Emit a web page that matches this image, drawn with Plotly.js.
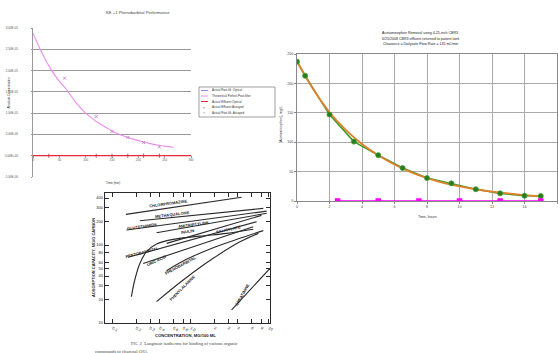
<!DOCTYPE html>
<html><head><meta charset="utf-8">
<script src="https://cdn.plot.ly/plotly-3.0.1.min.js"></script>
<style>html,body{margin:0;padding:0;background:#fff}</style>
</head><body><div id="chart" style="width:558px;height:353px"></div>
<script>
// ---------- Chart 1: KE +1 Phenobarbital Performance ----------
const c1FitTime = [0, 16, 32, 48, 64, 82, 100, 114, 127, 143, 159, 175, 190, 205, 221, 237, 253, 267];
const c1FitConc = [2.88e-5, 2.44e-5, 2.07e-5, 1.78e-5, 1.55e-5, 1.24e-5, 1.00e-5, 0.86e-5, 0.75e-5, 0.63e-5, 0.53e-5, 0.45e-5, 0.39e-5, 0.34e-5, 0.29e-5, 0.25e-5, 0.22e-5, 0.20e-5];
const c1PostTime = [60, 120, 150, 180, 210, 240];
const c1PostConc = [1.82e-5, 0.92e-5, 0.57e-5, 0.43e-5, 0.31e-5, 0.21e-5];
const c1EffTime = [30, 120, 150, 180, 210, 240];
const c1EffConc = [0, 0, 0, 0, 0, 0];
const c1EffLineTime = [0, 300];
const c1EffLineConc = [0, 0];
const c1YTicks = [-5e-6, 0, 5e-6, 1e-5, 1.5e-5, 2e-5, 2.5e-5, 3e-5];
const c1YLabels = ["-5.00E-06", "0.00E+00", "5.00E-06", "1.00E-05", "1.50E-05", "2.00E-05", "2.50E-05", "3.00E-05"];
const c1XTicks = [0, 50, 100, 150, 200, 250, 300];
const c1LegendNames = ["Actual Post-filt. Optical", "Theoretical Perfect Post-filter", "Actual Effluent Optical", "Actual Effluent Assayed", "Actual Post-filt. Assayed"];

// ---------- Chart 2: Acetaminophen removal ----------
const c2Time = [0, 0.5, 2, 3.5, 5, 6.5, 8, 9.5, 11, 12.5, 14, 15];
const c2Conc = [237, 213, 147, 101, 78, 56, 39, 30, 20, 13, 9, 8.5];
const c2FitTime = [0, 1, 2, 3, 4, 5, 6, 7, 8, 9, 10, 11, 12, 13, 14, 15];
const c2FitConc = [238, 190, 151, 121, 97, 78, 62, 49, 39, 31, 25, 20, 16, 13, 10, 8];
const c2TankTime = [2.5, 5, 7.5, 10, 12.5, 15];
const c2TankConc = [0, 0, 0, 0, 0, 0];
const c2Title = ["Acetaminophen Removal using 4.25-inch CBR3", "6/25/2008 CBR3 effluent returned to patient tank", "Clearance = Dialysate Flow Rate = 145 mL/min"];

// ---------- Chart 3: Langmuir isotherms (log-log) ----------
const chlorX = [0.147, 4.47], chlorY = [247, 409];
const methaX = [0.222, 8.45], methaY = [205, 295];
const gluteX = [0.150, 9.34], gluteY = [156, 272];
const amitrX = [0.363, 9.34], amitrY = [144, 255];
const inulinX = [0.173, 0.191, 0.222, 0.270, 0.363, 0.594, 1.30, 2.87, 6.29];
const inulinY = [21.8, 35.6, 58, 82, 103, 118, 130, 141, 159];
const pentoX = [0.157, 6.95], pentoY = [69.5, 199];
const salicX = [0.49, 8.0], salicY = [105, 240];
const uricX = [0.245, 6.29], uricY = [58, 172];
const phenoX = [0.488, 0.879, 1.93, 4.25, 8.45];
const phenoY = [46.9, 65.5, 92.4, 122, 153];
const phenylX = [0.363, 0.797, 1.93, 4.25, 7.30];
const phenylY = [18.8, 35.6, 67.5, 110, 141];
const creatX = [3.32, 10.3], creatY = [14.7, 50.2];
const c3XTicks = [0.1, 0.2, 0.3, 0.4, 0.6, 0.8, 1.0, 2, 3, 4, 6, 8, 10];
const c3XLabels = ["0.1", "0.2", "0.3", "0.4", "0.6", "0.8", "1.0", "2", "3", "4", "6", "8", "10"];
const c3YTicks = [10, 20, 30, 40, 50, 60, 80, 100, 200, 300, 400];
const c3YLabels = ["10", "20", "30", "40", "50", "60", "80", "100", "200", "300", "400"];

const W = 558, H = 353;
const fx = p => p / W, fy = p => 1 - p / H;

const blk = '#2a2a2a';
const iso = (x, y, shape) => ({x, y, xaxis: 'x3', yaxis: 'y3', mode: 'lines', type: 'scatter',
  line: {color: blk, width: 1.1, shape: shape || 'linear', smoothing: 1}, hoverinfo: 'skip', showlegend: false});

const traces = [
  // chart 1
  {x: c1EffLineTime, y: c1EffLineConc, xaxis: 'x', yaxis: 'y', mode: 'lines', line: {color: '#e8283c', width: 1.3}, showlegend: false},
  {x: c1FitTime, y: c1FitConc, xaxis: 'x', yaxis: 'y', mode: 'lines', line: {color: '#ec8cec', width: 1.1, shape: 'spline', smoothing: 0.8}, showlegend: false},
  {x: c1PostTime, y: c1PostConc, xaxis: 'x', yaxis: 'y', mode: 'markers', marker: {symbol: 'x-thin', size: 3, color: '#c070c0', line: {color: '#c070c0', width: 0.8}}, showlegend: false},
  {x: c1EffTime, y: c1EffConc, xaxis: 'x', yaxis: 'y', mode: 'markers', marker: {symbol: 'line-ns', size: 3, color: '#c03040', line: {color: '#c03040', width: 0.8}}, showlegend: false},
  // chart 2
  {x: c2Time, y: c2Conc, xaxis: 'x2', yaxis: 'y2', mode: 'lines', line: {color: '#3a9a2a', width: 1.6}, showlegend: false},
  {x: c2FitTime, y: c2FitConc, xaxis: 'x2', yaxis: 'y2', mode: 'lines', line: {color: '#e0802a', width: 1.8, shape: 'spline'}, showlegend: false},
  {x: c2Time, y: c2Conc, xaxis: 'x2', yaxis: 'y2', mode: 'markers', marker: {symbol: 'circle', size: 5, color: '#2c7a22', line: {color: '#3a9a2a', width: 0.8}}, showlegend: false},
  {x: c2TankTime, y: c2TankConc, xaxis: 'x2', yaxis: 'y2', mode: 'lines+markers', line: {color: '#ff00ff', width: 1.3}, marker: {symbol: 'square', size: 5.5, color: '#ff00ff'}, showlegend: false},
  // chart 3
  iso(chlorX, chlorY), iso(methaX, methaY), iso(gluteX, gluteY), iso(amitrX, amitrY),
  iso(inulinX, inulinY, 'spline'), iso(pentoX, pentoY), iso(salicX, salicY), iso(uricX, uricY),
  iso(phenoX, phenoY, 'spline'), iso(phenylX, phenylY, 'spline'), iso(creatX, creatY)
];

const ann = [];
const shapes = [];
const A = (text, px, py, size, opts) => ann.push(Object.assign({text, x: fx(px), y: fy(py), xref: 'paper', yref: 'paper',
  xanchor: 'center', yanchor: 'middle', showarrow: false,
  font: {size, color: '#333', family: 'Liberation Sans, Arial, sans-serif'}}, opts || {}));

// chart 1 texts
A('KE +1 Phenobarbital Performance', 138, 13, 4.2, {font: {size: 4.2, color: '#444', family: 'Liberation Sans'}});
A('Absolute Concentration', 8.5, 93, 3, {textangle: -90});
A('Time (min)', 113, 183, 3);
// legend chart 1
shapes.push({type: 'rect', xref: 'paper', yref: 'paper', x0: fx(199), x1: fx(275), y0: fy(117), y1: fy(87), line: {color: '#777', width: 0.7}});
const legRows = [90.5, 96, 101.5, 107, 112.5];
const legColors = ['#8c8cf0', '#ec8cec', '#e8283c', '#c03040', '#c070c0'];
legRows.forEach((ry, i) => {
  if (i < 3) shapes.push({type: 'line', xref: 'paper', yref: 'paper', x0: fx(201), x1: fx(208), y0: fy(ry), y1: fy(ry), line: {color: legColors[i], width: 1}});
  else A('×', 204.5, ry, 4, {font: {size: 4, color: legColors[i]}});
  A(c1LegendNames[i], 209.5, ry, 3, {xanchor: 'left'});
});

// chart 2 texts
c2Title.forEach((t, i) => A(t, 420, 33.3 + i * 5.5, 3.6, {font: {size: 3.6, color: '#222', family: 'Liberation Sans'}}));
A('[Acetaminophen], mg/L', 281, 125, 3.6, {textangle: -90});
A('Time, hours', 427, 216.5, 3.6);

// chart 3 texts
const B = (text, px, py, ang) => A(text, px, py, 4, {textangle: ang, font: {size: 4, color: '#222', family: 'Liberation Sans Narrow, Liberation Sans'}});
B('<b>CHLORPROMAZINE</b>', 168, 203, -8);
B('<b>METHAQUALONE</b>', 172, 214.5, -7);
B('<b>GLUTETHIMIDE</b>', 141.5, 226.5, -8);
B('<b>AMITRIPTYLINE</b>', 193, 224, -8);
B('<b>INULIN</b>', 187, 231.5, -8);
B('<b>SALICYLATE</b>', 228, 230, -12);
B('<b>PENTOBARBITAL</b>', 141.5, 252.5, -15);
B('<b>URIC ACID</b>', 156.5, 260, -25);
B('<b>PHENOBARBITAL</b>', 180, 265, -28);
B('<b>PHENYLALANINE</b>', 181.5, 288, -45);
B('<b>CREATININE</b>', 241.5, 295, -60);
A('<b>ADSORPTION CAPACITY, MG/G CARBON</b>', 93, 258, 4, {textangle: -90, font: {size: 4, color: '#222', family: 'Liberation Sans'}});
A('<b>CONCENTRATION, MG/100 ML</b>', 185, 335, 4.2, {font: {size: 4.2, color: '#222', family: 'Liberation Sans'}});
A('F<span style="font-size:3.5px">IG</span>. 2  Langmuir isotherms for binding of various organic', 184, 343.5, 4.6, {font: {size: 4.6, color: '#444', family: 'Liberation Serif'}});
A('compounds to charcoal (26).', 93, 351, 4.6, {xanchor: 'left', font: {size: 4.6, color: '#444', family: 'Liberation Serif'}});

const layout = {
  width: W, height: H, margin: {l: 0, r: 0, t: 0, b: 0}, paper_bgcolor: '#fff', plot_bgcolor: 'rgba(0,0,0,0)',
  showlegend: false,
  font: {family: 'Liberation Sans, Arial, sans-serif', color: '#333'},
  xaxis: {domain: [fx(33), fx(191)], range: [0, 300], anchor: 'free', position: fy(155), tickvals: c1XTicks,
    showgrid: false, zeroline: false, showline: false, ticks: 'outside', ticklen: 1.5, tickcolor: '#999',
    tickfont: {size: 3, color: '#555'}},
  yaxis: {domain: [fy(177), fy(28)], range: [-5e-6, 3e-5], anchor: 'x', tickvals: c1YTicks, ticktext: c1YLabels,
    showgrid: true, gridcolor: '#9a9a9a', gridwidth: 1, zeroline: false, showline: true, linecolor: '#999', linewidth: 1,
    ticks: 'outside', ticklen: 1.5, tickcolor: '#999', tickfont: {size: 3, color: '#555'}, ticklabelstandoff: 12},
  xaxis2: {domain: [fx(297), fx(557)], range: [0, 16], dtick: 2, anchor: 'y2', showgrid: true, gridcolor: '#aaa', gridwidth: 1,
    zeroline: false, showline: true, mirror: true, linecolor: '#888', linewidth: 1, ticks: 'outside', ticklen: 2, tickcolor: '#888',
    tickfont: {size: 3.6, color: '#444'}},
  yaxis2: {domain: [fy(201), fy(54)], range: [0, 250], dtick: 50, anchor: 'x2', showgrid: true, gridcolor: '#aaa', gridwidth: 1,
    zeroline: false, showline: true, mirror: true, linecolor: '#888', linewidth: 1, ticks: 'outside', ticklen: 2, tickcolor: '#888',
    tickfont: {size: 3.6, color: '#444'}},
  xaxis3: {type: 'log', domain: [fx(105), fx(270)], range: [-1.1, 1.013], anchor: 'y3', tickvals: c3XTicks, ticktext: c3XLabels,
    showgrid: false, zeroline: false, showline: true, mirror: 'allticks', linecolor: blk, linewidth: 1.2,
    ticks: 'inside', ticklen: 4, tickcolor: blk, tickfont: {size: 4, color: '#222'}},
  yaxis3: {type: 'log', domain: [fy(323), fy(193)], range: [1, 2.667], anchor: 'x3', tickvals: c3YTicks, ticktext: c3YLabels,
    showgrid: false, zeroline: false, showline: true, mirror: 'allticks', linecolor: blk, linewidth: 1.2,
    ticks: 'inside', ticklen: 4, tickcolor: blk, tickfont: {size: 4, color: '#222'}},
  annotations: ann, shapes: shapes
};

Plotly.newPlot('chart', traces, layout, {displayModeBar: false, staticPlot: true});
</script>
</body></html>
